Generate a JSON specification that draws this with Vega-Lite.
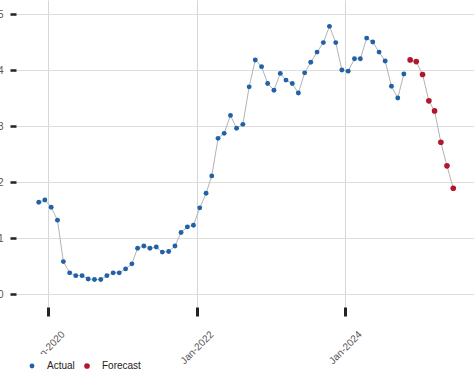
{
  "$schema": "https://vega.github.io/schema/vega-lite/v6.json",
  "width": 458,
  "height": 307,
  "autosize": {"type": "none"},
  "padding": {"left": 16, "top": 0, "right": 0, "bottom": 83},
  "config": {"view": {"stroke": null}, "font": "Liberation Sans"},
  "data": {"values": [
    {"date": "2019-11-15", "value": 1.64, "type": "Actual"},
    {"date": "2019-12-15", "value": 1.68, "type": "Actual"},
    {"date": "2020-01-15", "value": 1.55, "type": "Actual"},
    {"date": "2020-02-15", "value": 1.32, "type": "Actual"},
    {"date": "2020-03-15", "value": 0.58, "type": "Actual"},
    {"date": "2020-04-15", "value": 0.38, "type": "Actual"},
    {"date": "2020-05-15", "value": 0.33, "type": "Actual"},
    {"date": "2020-06-15", "value": 0.33, "type": "Actual"},
    {"date": "2020-07-15", "value": 0.27, "type": "Actual"},
    {"date": "2020-08-15", "value": 0.26, "type": "Actual"},
    {"date": "2020-09-15", "value": 0.26, "type": "Actual"},
    {"date": "2020-10-15", "value": 0.33, "type": "Actual"},
    {"date": "2020-11-15", "value": 0.38, "type": "Actual"},
    {"date": "2020-12-15", "value": 0.38, "type": "Actual"},
    {"date": "2021-01-15", "value": 0.45, "type": "Actual"},
    {"date": "2021-02-15", "value": 0.54, "type": "Actual"},
    {"date": "2021-03-15", "value": 0.82, "type": "Actual"},
    {"date": "2021-04-15", "value": 0.86, "type": "Actual"},
    {"date": "2021-05-15", "value": 0.82, "type": "Actual"},
    {"date": "2021-06-15", "value": 0.84, "type": "Actual"},
    {"date": "2021-07-15", "value": 0.75, "type": "Actual"},
    {"date": "2021-08-15", "value": 0.76, "type": "Actual"},
    {"date": "2021-09-15", "value": 0.86, "type": "Actual"},
    {"date": "2021-10-15", "value": 1.10, "type": "Actual"},
    {"date": "2021-11-15", "value": 1.20, "type": "Actual"},
    {"date": "2021-12-15", "value": 1.23, "type": "Actual"},
    {"date": "2022-01-15", "value": 1.54, "type": "Actual"},
    {"date": "2022-02-15", "value": 1.80, "type": "Actual"},
    {"date": "2022-03-15", "value": 2.11, "type": "Actual"},
    {"date": "2022-04-15", "value": 2.78, "type": "Actual"},
    {"date": "2022-05-15", "value": 2.87, "type": "Actual"},
    {"date": "2022-06-15", "value": 3.19, "type": "Actual"},
    {"date": "2022-07-15", "value": 2.96, "type": "Actual"},
    {"date": "2022-08-15", "value": 3.03, "type": "Actual"},
    {"date": "2022-09-15", "value": 3.70, "type": "Actual"},
    {"date": "2022-10-15", "value": 4.18, "type": "Actual"},
    {"date": "2022-11-15", "value": 4.06, "type": "Actual"},
    {"date": "2022-12-15", "value": 3.76, "type": "Actual"},
    {"date": "2023-01-15", "value": 3.64, "type": "Actual"},
    {"date": "2023-02-15", "value": 3.94, "type": "Actual"},
    {"date": "2023-03-15", "value": 3.82, "type": "Actual"},
    {"date": "2023-04-15", "value": 3.76, "type": "Actual"},
    {"date": "2023-05-15", "value": 3.59, "type": "Actual"},
    {"date": "2023-06-15", "value": 3.95, "type": "Actual"},
    {"date": "2023-07-15", "value": 4.14, "type": "Actual"},
    {"date": "2023-08-15", "value": 4.32, "type": "Actual"},
    {"date": "2023-09-15", "value": 4.49, "type": "Actual"},
    {"date": "2023-10-15", "value": 4.78, "type": "Actual"},
    {"date": "2023-11-15", "value": 4.49, "type": "Actual"},
    {"date": "2023-12-15", "value": 4.00, "type": "Actual"},
    {"date": "2024-01-15", "value": 3.98, "type": "Actual"},
    {"date": "2024-02-15", "value": 4.20, "type": "Actual"},
    {"date": "2024-03-15", "value": 4.20, "type": "Actual"},
    {"date": "2024-04-15", "value": 4.57, "type": "Actual"},
    {"date": "2024-05-15", "value": 4.50, "type": "Actual"},
    {"date": "2024-06-15", "value": 4.32, "type": "Actual"},
    {"date": "2024-07-15", "value": 4.16, "type": "Actual"},
    {"date": "2024-08-15", "value": 3.71, "type": "Actual"},
    {"date": "2024-09-15", "value": 3.50, "type": "Actual"},
    {"date": "2024-10-15", "value": 3.93, "type": "Actual"},
    {"date": "2024-11-15", "value": 4.18, "type": "Forecast"},
    {"date": "2024-12-15", "value": 4.15, "type": "Forecast"},
    {"date": "2025-01-15", "value": 3.92, "type": "Forecast"},
    {"date": "2025-02-15", "value": 3.45, "type": "Forecast"},
    {"date": "2025-03-15", "value": 3.27, "type": "Forecast"},
    {"date": "2025-04-15", "value": 2.71, "type": "Forecast"},
    {"date": "2025-05-15", "value": 2.29, "type": "Forecast"},
    {"date": "2025-06-15", "value": 1.89, "type": "Forecast"}
  ]},
  "resolve": {"axis": {"x": "independent", "y": "independent"}},
  "layer": [
    {
      "mark": {"type": "line", "color": "#b3b3b3", "strokeWidth": 1},
      "encoding": {
        "x": {"field": "date", "type": "temporal",
          "scale": {"type": "utc", "domain": [{"year": 2019, "month": 7, "date": 26, "utc": true}, {"year": 2025, "month": 9, "date": 25, "utc": true}]},
          "axis": {"title": null, "values": [{"year": 2020, "month": 1, "date": 1, "utc": true}, {"year": 2022, "month": 1, "date": 1, "utc": true}, {"year": 2024, "month": 1, "date": 1, "utc": true}],
            "format": "%b-%Y", "labelAngle": -45, "labelAlign": "right", "labelBaseline": "top", "labelOffset": 11, "labelPadding": 13,
            "tickSize": 9, "tickWidth": 3, "tickColor": "#222222", "domain": false, "gridColor": "#d6d6d6", "gridWidth": 1,
            "labelColor": "#555555", "labelFontSize": 10}},
        "y": {"field": "value", "type": "quantitative",
          "scale": {"domain": [-0.23, 5.25], "nice": false, "zero": false},
          "axis": {"title": null, "values": [0, 1, 2, 3, 4, 5], "tickSize": 6, "tickWidth": 2.5, "tickColor": "#222222", "domain": false,
            "gridColor": "#dedede", "gridWidth": 1, "labelColor": "#555555", "labelFontSize": 10, "labelPadding": 7}},
        "detail": {"field": "type"}
      }
    },
    {
      "mark": {"type": "point", "filled": true, "opacity": 1, "shape": "circle"},
      "encoding": {
        "x": {"field": "date", "type": "temporal",
          "axis": {"title": null, "values": [{"year": 2021, "month": 1, "date": 1, "utc": true}, {"year": 2023, "month": 1, "date": 1, "utc": true}, {"year": 2025, "month": 1, "date": 1, "utc": true}],
            "labels": false, "ticks": false, "domain": false, "gridColor": "#ececec", "gridWidth": 1, "orient": "bottom"}},
        "y": {"field": "value", "type": "quantitative",
          "axis": {"title": null, "values": [0.5, 1.5, 2.5, 3.5, 4.5], "labels": false, "ticks": false, "domain": false,
            "gridColor": "#ececec", "gridWidth": 1, "orient": "left"}},
        "color": {"field": "type", "type": "nominal",
          "scale": {"domain": ["Actual", "Forecast"], "range": ["#2161a6", "#b2182b"]},
          "legend": {"orient": "none", "legendX": 4, "legendY": 354, "direction": "horizontal", "title": null,
            "fillColor": "white", "padding": 7,
            "symbolSize": 20, "symbolType": "circle", "labelFontSize": 10, "labelColor": "#222222", "labelOffset": 10, "columnPadding": 7}},
        "size": {"field": "type", "type": "nominal", "scale": {"domain": ["Actual", "Forecast"], "range": [24, 32]}, "legend": null}
      }
    }
  ]
}
